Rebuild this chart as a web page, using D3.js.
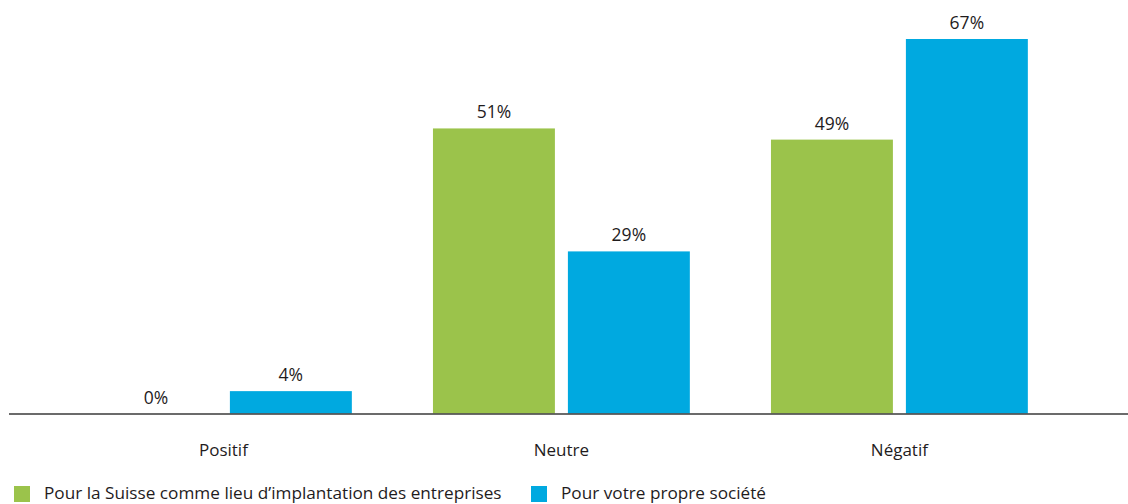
<!DOCTYPE html>
<html>
<head>
<meta charset="utf-8">
<script src="https://cdn.jsdelivr.net/npm/d3@7"></script>
<style>
  html, body { margin: 0; padding: 0; background: #fff; }
  svg text { font-family: "Open Sans", "Noto Sans", sans-serif; fill: #1f1c1d; font-weight: 500; }
</style>
</head>
<body>
<svg id="chart" width="1128" height="504"></svg>
<script>
// Répartition des réponses par catégorie
const categories = ["Positif", "Neutre", "Négatif"];
const seriesNames = [
  "Pour la Suisse comme lieu d’implantation des entreprises",
  "Pour votre propre société"
];
const suisseValues = [0, 51, 49];
const societeValues = [4, 29, 67];
const seriesColors = ["#9bc34b", "#00a9e0"];

const svg = d3.select("#chart");
const width = 1128;
const baselineY = 413.5;

const x0 = d3.scaleBand()
  .domain(categories)
  .range([54.4, 1068.4])
  .paddingInner(0.24)
  .paddingOuter(0.12);

const x1 = d3.scaleBand()
  .domain(seriesNames)
  .range([0, x0.bandwidth()])
  .paddingInner(0.0963)
  .paddingOuter(0);

const y = d3.scaleLinear()
  .domain([0, 67])
  .range([baselineY, 39]);

const color = d3.scaleOrdinal().domain(seriesNames).range(seriesColors);

const rows = categories.map((c, i) => ({
  category: c,
  values: [
    { series: seriesNames[0], value: suisseValues[i] },
    { series: seriesNames[1], value: societeValues[i] }
  ]
}));

const groups = svg.append("g")
  .selectAll("g")
  .data(rows)
  .join("g")
  .attr("transform", d => `translate(${x0(d.category)},0)`);

groups.selectAll("rect")
  .data(d => d.values)
  .join("rect")
  .attr("x", d => x1(d.series))
  .attr("y", d => y(d.value))
  .attr("width", x1.bandwidth())
  .attr("height", d => baselineY - y(d.value))
  .attr("fill", d => color(d.series));

groups.selectAll("text.value")
  .data(d => d.values)
  .join("text")
  .attr("class", "value")
  .attr("x", d => x1(d.series) + x1.bandwidth() / 2)
  .attr("y", d => y(d.value) - 10)
  .attr("text-anchor", "middle")
  .attr("font-size", 17.5)
  .text(d => d.value + "%");

// Ligne de base
svg.append("line")
  .attr("x1", 9).attr("x2", width)
  .attr("y1", 414).attr("y2", 414)
  .attr("stroke", "#3a3a3a")
  .attr("stroke-width", 1.4);

// Libellés des catégories
svg.append("g")
  .selectAll("text")
  .data(categories)
  .join("text")
  .attr("x", d => x0(d) + x0.bandwidth() / 2)
  .attr("y", 456)
  .attr("text-anchor", "middle")
  .attr("font-size", 17)
  .text(d => d);

// Légende
const legendX = [14, 531];
const legend = svg.append("g")
  .selectAll("g")
  .data(seriesNames)
  .join("g")
  .attr("transform", (d, i) => `translate(${legendX[i]},486)`);

legend.append("rect")
  .attr("width", 16).attr("height", 16)
  .attr("fill", d => color(d));

legend.append("text")
  .attr("x", 30)
  .attr("y", 12.5)
  .attr("font-size", 17.2)
  .text(d => d);
</script>
</body>
</html>
